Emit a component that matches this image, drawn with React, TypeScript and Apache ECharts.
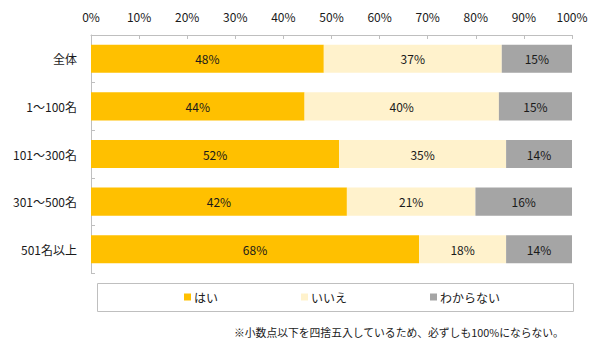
import React, { useEffect, useRef } from "react";
import * as echarts from "echarts";

const categories = ["全体", "1～100名", "101～300名", "301～500名", "501名以上"];
const seriesNames = ["はい", "いいえ", "わからない"];
const yesValues = [48.4, 44.4, 51.6, 42.4, 68.2];
const noValues = [37.0, 40.4, 34.7, 21.3, 18.1];
const unknownValues = [14.6, 15.2, 13.7, 16.0, 13.7];
const colors = ["#FFC000", "#FFF2CC", "#A5A5A5"];
const tickValues = [0, 10, 20, 30, 40, 50, 60, 70, 80, 90, 100];
const footnote = "※小数点以下を四捨五入しているため、必ずしも100%にならない。";

const FONT = "'Noto Sans CJK JP', 'Noto Sans', sans-serif";

export default function App() {
  const ref = useRef<HTMLDivElement>(null);
  useEffect(() => {
    if (!ref.current) return;
    const chart = echarts.init(ref.current, undefined, { renderer: "svg" });
    const raw = [yesValues, noValues, unknownValues];
    const totals = categories.map((_, i) => raw.reduce((s, arr) => s + arr[i], 0));
    const series = raw.map((arr, si) => ({
      name: seriesNames[si],
      type: "bar",
      stack: "total",
      barCategoryGap: "41%",
      itemStyle: { color: colors[si] },
      label: {
        show: true,
        position: "inside",
        color: "#1a1a1a",
        fontFamily: FONT,
        fontSize: 12,
        formatter: (p: any) => Math.round(arr[p.dataIndex]) + "%",
      },
      data: arr.map((v, i) => (v / totals[i]) * 100),
    }));
    chart.setOption({
      animation: false,
      textStyle: { fontFamily: FONT },
      grid: { left: 91, right: 33, top: 35, bottom: 73 },
      xAxis: {
        type: "value",
        position: "top",
        min: tickValues[0],
        max: tickValues[tickValues.length - 1],
        interval: tickValues[1] - tickValues[0],
        axisLine: { show: true, lineStyle: { color: "#BFBFBF" } },
        axisTick: { show: true, inside: true, length: 4, lineStyle: { color: "#BFBFBF" } },
        splitLine: { show: false },
        axisLabel: {
          formatter: "{value}%",
          color: "#1a1a1a",
          fontSize: 12,
          fontFamily: FONT,
          margin: 13,
        },
      },
      yAxis: {
        type: "category",
        inverse: true,
        data: categories,
        axisLine: { show: true, lineStyle: { color: "#BFBFBF" } },
        axisTick: { show: true, inside: true, length: 4, lineStyle: { color: "#BFBFBF" } },
        axisLabel: { color: "#1a1a1a", fontSize: 12, fontFamily: FONT, margin: 14 },
      },
      legend: {
        data: seriesNames,
        left: 184,
        top: 291,
        padding: 0,
        itemGap: 83,
        itemWidth: 7,
        itemHeight: 7,
        icon: "rect",
        textStyle: { color: "#1a1a1a", fontSize: 12, fontFamily: FONT, padding: [0, 0, 0, -2] },
      },
      graphic: [
        {
          type: "rect",
          shape: { x: 97.5, y: 283.5, width: 476, height: 28 },
          style: { fill: "none", stroke: "#BFBFBF", lineWidth: 1 },
          silent: true,
        },
        {
          type: "text",
          x: 234,
          y: 332,
          style: {
            text: footnote,
            fill: "#1a1a1a",
            font: `10.8px ${FONT}`,
            textVerticalAlign: "middle",
          },
        },
      ],
      series,
    });
    return () => chart.dispose();
  }, []);
  return <div ref={ref} style={{ width: 605, height: 346, position: "absolute", left: 0, top: 0 }} />;
}
